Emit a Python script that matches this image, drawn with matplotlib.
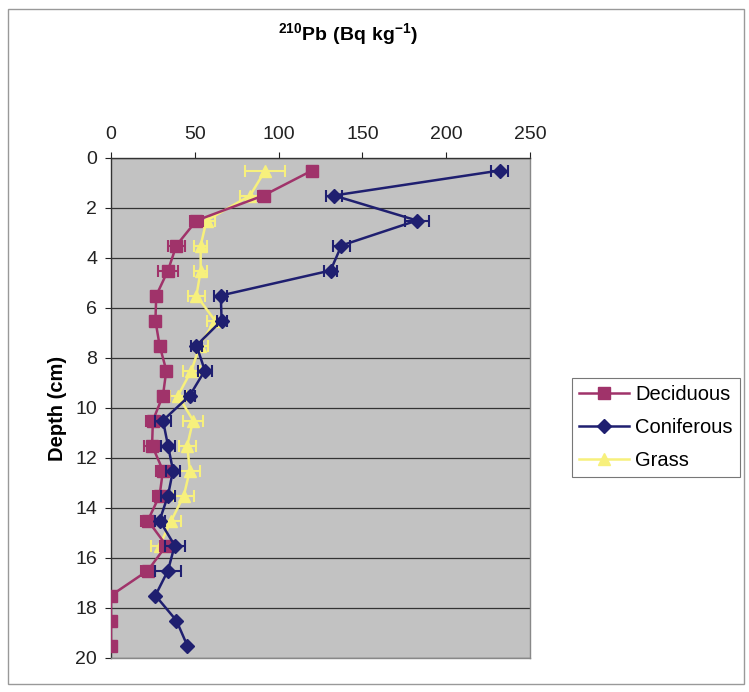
import numpy as np
import matplotlib
matplotlib.use("Agg")
import matplotlib.pyplot as plt
from matplotlib.patches import Rectangle

plt.rcParams['font.family'] = ['Liberation Sans', 'DejaVu Sans']
plt.rcParams['mathtext.fontset'] = 'custom'
plt.rcParams['mathtext.rm'] = 'Liberation Sans'
plt.rcParams['mathtext.bf'] = 'Liberation Sans:bold'

# ---- data ----
depth = [0.5, 1.5, 2.5, 3.5, 4.5, 5.5, 6.5, 7.5, 8.5, 9.5,
         10.5, 11.5, 12.5, 13.5, 14.5, 15.5, 16.5, 17.5, 18.5, 19.5]
deciduous = [120, 91, 51, 39, 34, 27, 26.5, 29, 33, 31,
             25, 24.5, 31, 29, 22, 33, 22, 0, 0, 0]
deciduous_err = [3, 3, 4, 5, 6, 3, 3, 3, 3, 3,
                 4, 5, 4, 4, 4, 4, 4, 0, 0, 0]
coniferous = [232, 133, 182.5, 137.5, 131, 65.5, 66, 51, 56, 47,
              31, 34, 37, 34, 29, 38, 34, 26.5, 39, 45.5]
coniferous_err = [5, 5, 7, 5, 4, 4, 3, 3, 4, 3,
                  5, 4, 4, 4, 3, 6, 8, 0, 0, 0]
grass_depth = [0.5, 1.5, 2.5, 3.5, 4.5, 5.5, 6.5, 7.5, 8.5, 9.5,
               10.5, 11.5, 12.5, 13.5, 14.5, 15.5]
grass = [92, 83, 57, 53.5, 53.5, 51, 62, 53, 48, 40,
         49, 45.5, 47, 43.5, 36, 29]
grass_err = [12, 6, 5, 4, 4, 5, 5, 5, 5, 5,
             6, 5, 6, 6, 6, 5]
x_ticks = [0, 50, 100, 150, 200, 250]
y_ticks = [0, 2, 4, 6, 8, 10, 12, 14, 16, 18, 20]

c_dec = '#a0336a'
c_con = '#1f1f70'
c_gra = '#f7f07c'

W, H = 749, 692
fig = plt.figure(figsize=(W / 100, H / 100), dpi=100)
fig.patch.set_facecolor('white')
ax = fig.add_axes([111 / W, 1 - 658 / H, (530 - 111) / W, (658 - 158) / H])
ax.set_facecolor('#c2c2c2')

for xs, ys, err, col, mk, ms, lab, z in [
    (grass, grass_depth, grass_err, c_gra, '^', 9, 'Grass', 3),
    (deciduous, depth, deciduous_err, c_dec, 's', 9, 'Deciduous', 4),
    (coniferous, depth, coniferous_err, c_con, 'D', 7, 'Coniferous', 5),
]:
    ax.errorbar(xs, ys, xerr=err, fmt='none', ecolor=col, elinewidth=1.5,
                capsize=4, capthick=1.5, zorder=z)
    ax.plot(xs, ys, color=col, lw=1.8, marker=mk, ms=ms, mfc=col, mec=col,
            label=lab, zorder=z)

ax.set_xlim(0, 250)
ax.set_ylim(20, 0)
ax.set_xticks(x_ticks)
ax.set_yticks(y_ticks)
ax.xaxis.tick_top()
ax.tick_params(axis='both', labelsize=14, colors='#222222', length=4,
               width=0.8, direction='out')
ax.tick_params(axis='x', pad=7)
ax.tick_params(axis='y', pad=6)
ax.yaxis.grid(True, color='#333333', lw=0.9)
ax.set_axisbelow(True)
for s in ['top', 'left']:
    ax.spines[s].set_color('#333333')
    ax.spines[s].set_linewidth(1.0)
for s in ['right', 'bottom']:
    ax.spines[s].set_color('#888888')
    ax.spines[s].set_linewidth(1.0)

ax.set_ylabel('Depth (cm)', fontsize=14.5, fontweight='bold', labelpad=6)
fig.text(348 / W, 1 - 34 / H, r'$\mathbf{^{210}Pb\ (Bq\ kg^{-1})}$',
         ha='center', va='center', fontsize=14)

handles, labels = ax.get_legend_handles_labels()
order = [1, 2, 0]
leg = fig.legend([handles[i] for i in order], [labels[i] for i in order],
                 loc='upper left', bbox_to_anchor=(572 / W, 1 - 378 / H),
                 fontsize=14.5, frameon=True, fancybox=False, handlelength=2.5,
                 handletextpad=0.3, borderpad=0.35, labelspacing=0.7,
                 borderaxespad=0)
leg.get_frame().set_edgecolor('#555555')
leg.get_frame().set_linewidth(0.8)

fig.patches.append(Rectangle((8 / W, 1 - 684 / H), (744 - 8) / W, (684 - 9) / H,
                             transform=fig.transFigure, fill=False,
                             edgecolor='#999999', lw=1.0))

fig.savefig('out.png', dpi=100)
